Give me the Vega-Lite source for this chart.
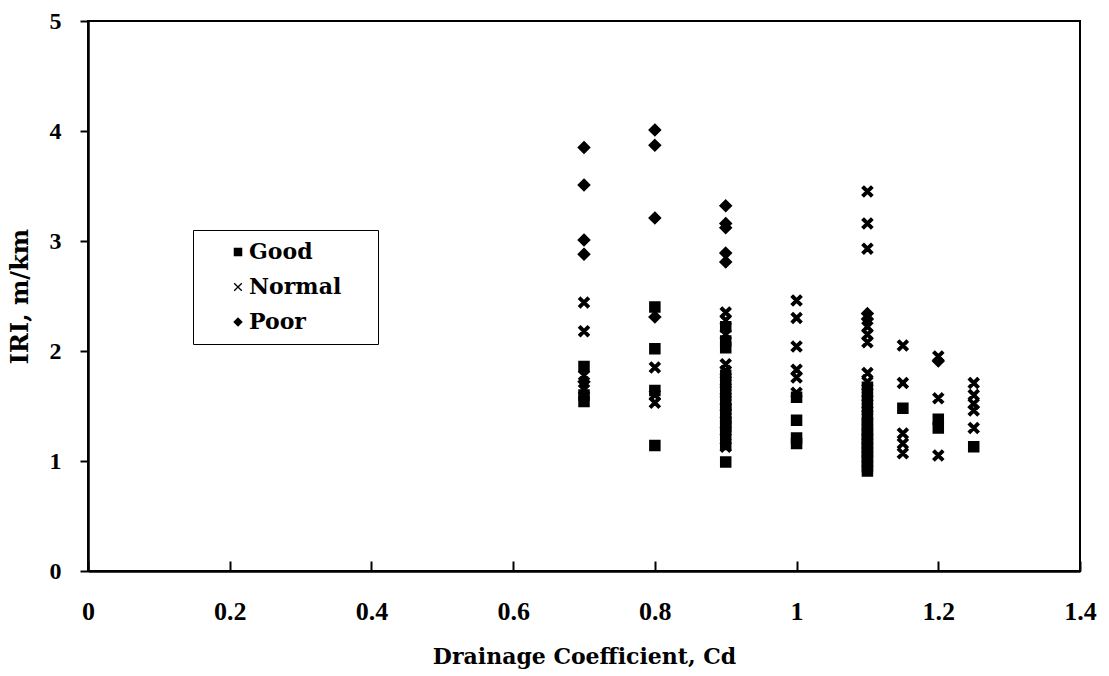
{
  "$schema": "https://vega.github.io/schema/vega-lite/v6.json",
  "autosize": "none",
  "width": 992,
  "height": 550,
  "padding": {"left": 88, "top": 21, "right": 29, "bottom": 105},
  "background": "white",
  "config": {
    "view": {"stroke": "black", "strokeWidth": 2},
    "font": "Liberation Serif"
  },
  "datasets": {
    "pts": [
      {"cd": 0.7, "iri": 3.85, "cond": "Poor"},
      {"cd": 0.7, "iri": 3.51, "cond": "Poor"},
      {"cd": 0.7, "iri": 3.01, "cond": "Poor"},
      {"cd": 0.7, "iri": 2.88, "cond": "Poor"},
      {"cd": 0.7, "iri": 2.44, "cond": "Normal"},
      {"cd": 0.7, "iri": 2.18, "cond": "Normal"},
      {"cd": 0.7, "iri": 1.86, "cond": "Good"},
      {"cd": 0.7, "iri": 1.78, "cond": "Normal"},
      {"cd": 0.7, "iri": 1.72, "cond": "Poor"},
      {"cd": 0.7, "iri": 1.65, "cond": "Normal"},
      {"cd": 0.7, "iri": 1.6, "cond": "Good"},
      {"cd": 0.7, "iri": 1.54, "cond": "Good"},
      {"cd": 0.8, "iri": 4.01, "cond": "Poor"},
      {"cd": 0.8, "iri": 3.87, "cond": "Poor"},
      {"cd": 0.8, "iri": 3.21, "cond": "Poor"},
      {"cd": 0.8, "iri": 2.4, "cond": "Good"},
      {"cd": 0.8, "iri": 2.31, "cond": "Poor"},
      {"cd": 0.8, "iri": 2.02, "cond": "Good"},
      {"cd": 0.8, "iri": 1.85, "cond": "Normal"},
      {"cd": 0.8, "iri": 1.64, "cond": "Good"},
      {"cd": 0.8, "iri": 1.6, "cond": "Normal"},
      {"cd": 0.8, "iri": 1.53, "cond": "Normal"},
      {"cd": 0.8, "iri": 1.14, "cond": "Good"},
      {"cd": 0.9, "iri": 3.32, "cond": "Poor"},
      {"cd": 0.9, "iri": 3.16, "cond": "Poor"},
      {"cd": 0.9, "iri": 3.12, "cond": "Poor"},
      {"cd": 0.9, "iri": 2.89, "cond": "Poor"},
      {"cd": 0.9, "iri": 2.81, "cond": "Poor"},
      {"cd": 0.9, "iri": 2.35, "cond": "Normal"},
      {"cd": 0.9, "iri": 2.28, "cond": "Normal"},
      {"cd": 0.9, "iri": 2.22, "cond": "Good"},
      {"cd": 0.9, "iri": 2.15, "cond": "Normal"},
      {"cd": 0.9, "iri": 2.09, "cond": "Good"},
      {"cd": 0.9, "iri": 2.03, "cond": "Good"},
      {"cd": 0.9, "iri": 1.88, "cond": "Normal"},
      {"cd": 0.9, "iri": 1.82, "cond": "Normal"},
      {"cd": 0.9, "iri": 1.78, "cond": "Good"},
      {"cd": 0.9, "iri": 1.73, "cond": "Normal"},
      {"cd": 0.9, "iri": 1.69, "cond": "Good"},
      {"cd": 0.9, "iri": 1.64, "cond": "Normal"},
      {"cd": 0.9, "iri": 1.6, "cond": "Good"},
      {"cd": 0.9, "iri": 1.55, "cond": "Normal"},
      {"cd": 0.9, "iri": 1.51, "cond": "Good"},
      {"cd": 0.9, "iri": 1.47, "cond": "Good"},
      {"cd": 0.9, "iri": 1.43, "cond": "Normal"},
      {"cd": 0.9, "iri": 1.39, "cond": "Good"},
      {"cd": 0.9, "iri": 1.35, "cond": "Good"},
      {"cd": 0.9, "iri": 1.31, "cond": "Good"},
      {"cd": 0.9, "iri": 1.27, "cond": "Normal"},
      {"cd": 0.9, "iri": 1.24, "cond": "Good"},
      {"cd": 0.9, "iri": 1.15, "cond": "Good"},
      {"cd": 0.9, "iri": 1.13, "cond": "Normal"},
      {"cd": 0.9, "iri": 0.99, "cond": "Good"},
      {"cd": 1.0, "iri": 2.46, "cond": "Normal"},
      {"cd": 1.0, "iri": 2.3, "cond": "Normal"},
      {"cd": 1.0, "iri": 2.04, "cond": "Normal"},
      {"cd": 1.0, "iri": 1.83, "cond": "Normal"},
      {"cd": 1.0, "iri": 1.76, "cond": "Normal"},
      {"cd": 1.0, "iri": 1.62, "cond": "Normal"},
      {"cd": 1.0, "iri": 1.58, "cond": "Good"},
      {"cd": 1.0, "iri": 1.37, "cond": "Good"},
      {"cd": 1.0, "iri": 1.21, "cond": "Good"},
      {"cd": 1.0, "iri": 1.16, "cond": "Good"},
      {"cd": 1.1, "iri": 3.45, "cond": "Normal"},
      {"cd": 1.1, "iri": 3.16, "cond": "Normal"},
      {"cd": 1.1, "iri": 2.93, "cond": "Normal"},
      {"cd": 1.1, "iri": 2.34, "cond": "Poor"},
      {"cd": 1.1, "iri": 2.29, "cond": "Poor"},
      {"cd": 1.1, "iri": 2.22, "cond": "Normal"},
      {"cd": 1.1, "iri": 2.15, "cond": "Normal"},
      {"cd": 1.1, "iri": 2.08, "cond": "Normal"},
      {"cd": 1.1, "iri": 1.8, "cond": "Normal"},
      {"cd": 1.1, "iri": 1.72, "cond": "Normal"},
      {"cd": 1.1, "iri": 1.67, "cond": "Good"},
      {"cd": 1.1, "iri": 1.62, "cond": "Normal"},
      {"cd": 1.1, "iri": 1.57, "cond": "Good"},
      {"cd": 1.1, "iri": 1.52, "cond": "Normal"},
      {"cd": 1.1, "iri": 1.47, "cond": "Good"},
      {"cd": 1.1, "iri": 1.42, "cond": "Normal"},
      {"cd": 1.1, "iri": 1.38, "cond": "Good"},
      {"cd": 1.1, "iri": 1.33, "cond": "Good"},
      {"cd": 1.1, "iri": 1.28, "cond": "Good"},
      {"cd": 1.1, "iri": 1.24, "cond": "Good"},
      {"cd": 1.1, "iri": 1.2, "cond": "Good"},
      {"cd": 1.1, "iri": 1.16, "cond": "Good"},
      {"cd": 1.1, "iri": 1.12, "cond": "Good"},
      {"cd": 1.1, "iri": 1.08, "cond": "Good"},
      {"cd": 1.1, "iri": 1.04, "cond": "Good"},
      {"cd": 1.1, "iri": 1.0, "cond": "Good"},
      {"cd": 1.1, "iri": 0.95, "cond": "Good"},
      {"cd": 1.1, "iri": 0.91, "cond": "Good"},
      {"cd": 1.15, "iri": 2.05, "cond": "Normal"},
      {"cd": 1.15, "iri": 1.71, "cond": "Normal"},
      {"cd": 1.15, "iri": 1.48, "cond": "Good"},
      {"cd": 1.15, "iri": 1.25, "cond": "Normal"},
      {"cd": 1.15, "iri": 1.16, "cond": "Normal"},
      {"cd": 1.15, "iri": 1.07, "cond": "Normal"},
      {"cd": 1.2, "iri": 1.95, "cond": "Normal"},
      {"cd": 1.2, "iri": 1.91, "cond": "Poor"},
      {"cd": 1.2, "iri": 1.57, "cond": "Normal"},
      {"cd": 1.2, "iri": 1.38, "cond": "Good"},
      {"cd": 1.2, "iri": 1.3, "cond": "Good"},
      {"cd": 1.2, "iri": 1.05, "cond": "Normal"},
      {"cd": 1.25, "iri": 1.71, "cond": "Normal"},
      {"cd": 1.25, "iri": 1.6, "cond": "Normal"},
      {"cd": 1.25, "iri": 1.52, "cond": "Normal"},
      {"cd": 1.25, "iri": 1.46, "cond": "Normal"},
      {"cd": 1.25, "iri": 1.3, "cond": "Normal"},
      {"cd": 1.25, "iri": 1.13, "cond": "Good"}
    ]
  },
  "data": {"name": "pts"},
  "mark": {"type": "point", "filled": true, "fill": "black", "stroke": "black", "strokeWidth": 2.5, "opacity": 1, "size": 100},
  "encoding": {
    "x": {
      "field": "cd", "type": "quantitative",
      "scale": {"domain": [0, 1.4], "nice": false, "zero": true},
      "axis": {
        "values": [0, 0.2, 0.4, 0.6, 0.8, 1, 1.2, 1.4],
        "format": "~g",
        "grid": false,
        "labelFlush": false,
        "domainColor": "black", "domainWidth": 2.5,
        "tickColor": "black", "tickWidth": 2, "tickSize": -10,
        "labelFont": "Liberation Serif", "labelFontWeight": "bold", "labelFontSize": 26, "labelColor": "black",
        "labelPadding": 37,
        "title": "Drainage Coefficient, Cd",
        "titleFont": "DejaVu Serif", "titleFontWeight": "bold", "titleFontSize": 22, "titleColor": "black",
        "titlePadding": 22
      }
    },
    "y": {
      "field": "iri", "type": "quantitative",
      "scale": {"domain": [0, 5], "nice": false},
      "axis": {
        "values": [0, 1, 2, 3, 4, 5],
        "grid": false,
        "domainColor": "black", "domainWidth": 2.5,
        "tickColor": "black", "tickWidth": 2, "tickSize": 8,
        "labelFont": "Liberation Serif", "labelFontWeight": "bold", "labelFontSize": 24, "labelColor": "black",
        "labelPadding": 19,
        "title": "IRI, m/km",
        "titleFont": "DejaVu Serif", "titleFontWeight": "bold", "titleFontSize": 24, "titleColor": "black",
        "titlePadding": 17
      }
    },
    "shape": {
      "field": "cond", "type": "nominal",
      "scale": {
        "domain": ["Good", "Normal", "Poor"],
        "range": [
          "M-0.9,-0.9L0.9,-0.9L0.9,0.9L-0.9,0.9Z",
          "M-0.7,-0.9L0.9,0.7L0.7,0.9L-0.9,-0.7ZM0.7,-0.9L0.9,-0.7L-0.7,0.9L-0.9,0.7Z",
          "M0,-1L1,0L0,1L-1,0Z"
        ]
      },
      "legend": {
        "title": null,
        "orient": "none",
        "legendX": 105,
        "legendY": 209,
        "strokeColor": "black",
        "fillColor": "white",
        "padding": 11,
        "symbolOffset": 23,
        "rowPadding": 13,
        "symbolSize": 90,
        "symbolFillColor": "black",
        "symbolStrokeColor": "black",
        "symbolStrokeWidth": 1,
        "labelFont": "DejaVu Serif", "labelFontWeight": "bold", "labelFontSize": 22, "labelColor": "black",
        "labelOffset": 0,
        "labelExpr": "datum.label + '\u00a0\u2800'"
      }
    }
  }
}
